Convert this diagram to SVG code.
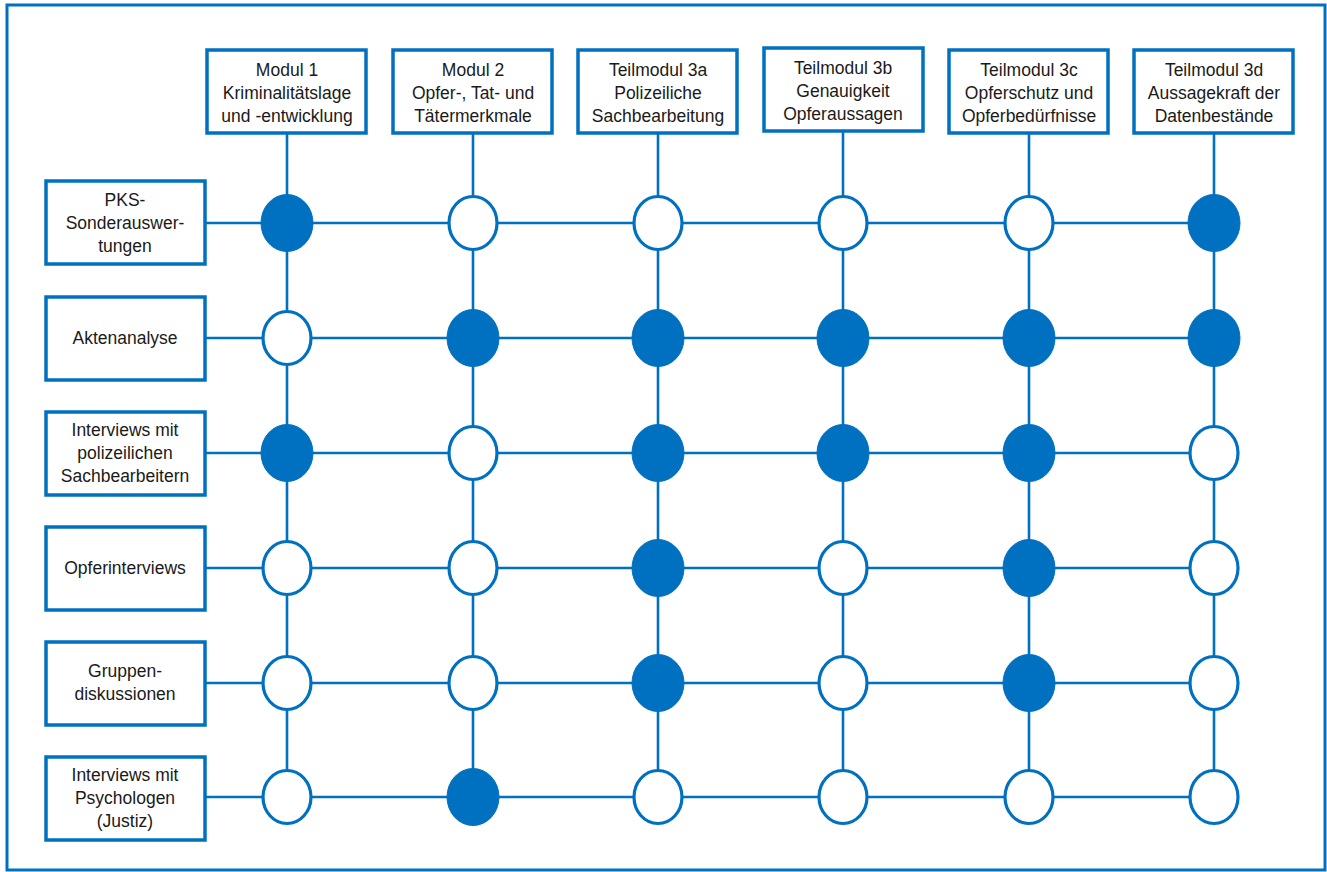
<svg xmlns="http://www.w3.org/2000/svg" width="1327" height="872" viewBox="0 0 1327 872">
<style>
.frame{fill:none;stroke:#0070C0;stroke-width:3}
.box{fill:#fff;stroke:#0070C0;stroke-width:3.5}
.ln{stroke:#0070C0;stroke-width:2.6;fill:none}
.on{fill:#0070C0;stroke:#0070C0;stroke-width:1}
.off{fill:#fff;stroke:#0070C0;stroke-width:3.2}
text{font-family:"Liberation Sans",Arial,sans-serif;font-size:17.5px;fill:#1a1a1a;text-anchor:middle}
</style>
<rect width="1327" height="872" fill="#fff"/>
<rect class="frame" x="7" y="5" width="1318" height="865"/>
<g id="connectors">
<line class="ln" x1="287" y1="133" x2="287" y2="797"/>
<line class="ln" x1="473" y1="133" x2="473" y2="797"/>
<line class="ln" x1="658" y1="133" x2="658" y2="797"/>
<line class="ln" x1="843" y1="131" x2="843" y2="797"/>
<line class="ln" x1="1029" y1="133" x2="1029" y2="797"/>
<line class="ln" x1="1214" y1="133" x2="1214" y2="797"/>
<line class="ln" x1="205" y1="223" x2="1214" y2="223"/>
<line class="ln" x1="205" y1="338" x2="1214" y2="338"/>
<line class="ln" x1="205" y1="453" x2="1214" y2="453"/>
<line class="ln" x1="205" y1="568" x2="1214" y2="568"/>
<line class="ln" x1="205" y1="683" x2="1214" y2="683"/>
<line class="ln" x1="205" y1="797" x2="1214" y2="797"/>
</g>
<g id="h1"><rect class="box" x="207" y="50" width="159" height="83"/><text x="287" y="76">Modul 1</text><text x="287" y="99">Kriminalitätslage</text><text x="287" y="122">und -entwicklung</text></g>
<g id="h2"><rect class="box" x="393" y="50" width="159" height="83"/><text x="473" y="76">Modul 2</text><text x="473" y="99">Opfer-, Tat- und</text><text x="473" y="122">Tätermerkmale</text></g>
<g id="h3a"><rect class="box" x="578" y="50" width="159" height="83"/><text x="658" y="76">Teilmodul 3a</text><text x="658" y="99">Polizeiliche</text><text x="658" y="122">Sachbearbeitung</text></g>
<g id="h3b"><rect class="box" x="764" y="48" width="159" height="83"/><text x="843" y="74">Teilmodul 3b</text><text x="843" y="97">Genauigkeit</text><text x="843" y="120">Opferaussagen</text></g>
<g id="h3c"><rect class="box" x="949" y="50" width="159" height="83"/><text x="1029" y="76">Teilmodul 3c</text><text x="1029" y="99">Opferschutz und</text><text x="1029" y="122">Opferbedürfnisse</text></g>
<g id="h3d"><rect class="box" x="1134" y="50" width="159" height="83"/><text x="1214" y="76">Teilmodul 3d</text><text x="1214" y="99">Aussagekraft der</text><text x="1214" y="122">Datenbestände</text></g>
<g id="r1"><rect class="box" x="46" y="181" width="159" height="83"/><text x="125" y="206">PKS-</text><text x="125" y="229">Sonderauswer-</text><text x="125" y="252">tungen</text></g>
<g id="r2"><rect class="box" x="46" y="297" width="159" height="83"/><text x="125" y="344">Aktenanalyse</text></g>
<g id="r3"><rect class="box" x="46" y="412" width="159" height="83"/><text x="125" y="436">Interviews mit</text><text x="125" y="459">polizeilichen</text><text x="125" y="482">Sachbearbeitern</text></g>
<g id="r4"><rect class="box" x="46" y="527" width="159" height="83"/><text x="125" y="574">Opferinterviews</text></g>
<g id="r5"><rect class="box" x="46" y="642" width="159" height="83"/><text x="125" y="677">Gruppen-</text><text x="125" y="700">diskussionen</text></g>
<g id="r6"><rect class="box" x="46" y="757" width="159" height="83"/><text x="125" y="781">Interviews mit</text><text x="125" y="804">Psychologen</text><text x="125" y="827">(Justiz)</text></g>
<g id="dots">
<ellipse class="on" cx="287" cy="223" rx="26" ry="28.5"/>
<ellipse class="off" cx="473" cy="223" rx="24" ry="26.5"/>
<ellipse class="off" cx="658" cy="223" rx="24" ry="26.5"/>
<ellipse class="off" cx="843" cy="223" rx="24" ry="26.5"/>
<ellipse class="off" cx="1029" cy="223" rx="24" ry="26.5"/>
<ellipse class="on" cx="1214" cy="223" rx="26" ry="28.5"/>
<ellipse class="off" cx="287" cy="338" rx="24" ry="26.5"/>
<ellipse class="on" cx="473" cy="338" rx="26" ry="28.5"/>
<ellipse class="on" cx="658" cy="338" rx="26" ry="28.5"/>
<ellipse class="on" cx="843" cy="338" rx="26" ry="28.5"/>
<ellipse class="on" cx="1029" cy="338" rx="26" ry="28.5"/>
<ellipse class="on" cx="1214" cy="338" rx="26" ry="28.5"/>
<ellipse class="on" cx="287" cy="453" rx="26" ry="28.5"/>
<ellipse class="off" cx="473" cy="453" rx="24" ry="26.5"/>
<ellipse class="on" cx="658" cy="453" rx="26" ry="28.5"/>
<ellipse class="on" cx="843" cy="453" rx="26" ry="28.5"/>
<ellipse class="on" cx="1029" cy="453" rx="26" ry="28.5"/>
<ellipse class="off" cx="1214" cy="453" rx="24" ry="26.5"/>
<ellipse class="off" cx="287" cy="568" rx="24" ry="26.5"/>
<ellipse class="off" cx="473" cy="568" rx="24" ry="26.5"/>
<ellipse class="on" cx="658" cy="568" rx="26" ry="28.5"/>
<ellipse class="off" cx="843" cy="568" rx="24" ry="26.5"/>
<ellipse class="on" cx="1029" cy="568" rx="26" ry="28.5"/>
<ellipse class="off" cx="1214" cy="568" rx="24" ry="26.5"/>
<ellipse class="off" cx="287" cy="683" rx="24" ry="26.5"/>
<ellipse class="off" cx="473" cy="683" rx="24" ry="26.5"/>
<ellipse class="on" cx="658" cy="683" rx="26" ry="28.5"/>
<ellipse class="off" cx="843" cy="683" rx="24" ry="26.5"/>
<ellipse class="on" cx="1029" cy="683" rx="26" ry="28.5"/>
<ellipse class="off" cx="1214" cy="683" rx="24" ry="26.5"/>
<ellipse class="off" cx="287" cy="797" rx="24" ry="26.5"/>
<ellipse class="on" cx="473" cy="797" rx="26" ry="28.5"/>
<ellipse class="off" cx="658" cy="797" rx="24" ry="26.5"/>
<ellipse class="off" cx="843" cy="797" rx="24" ry="26.5"/>
<ellipse class="off" cx="1029" cy="797" rx="24" ry="26.5"/>
<ellipse class="off" cx="1214" cy="797" rx="24" ry="26.5"/>
</g>
</svg>
